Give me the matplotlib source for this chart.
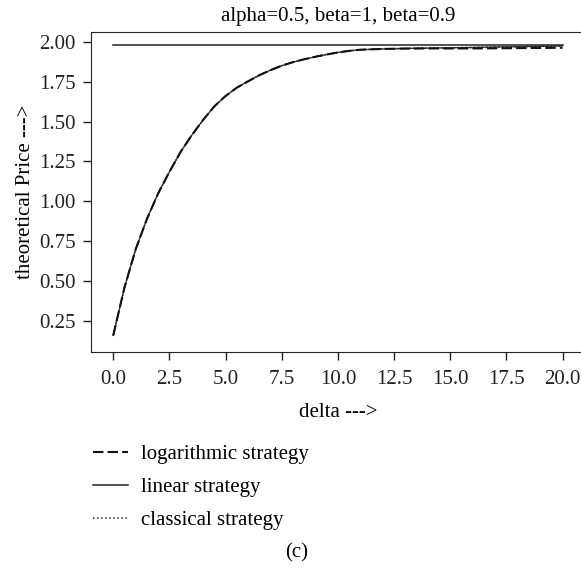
import matplotlib.pyplot as plt
import numpy as np

plt.rcParams['font.family'] = ['Liberation Serif', 'DejaVu Serif']
plt.rcParams['font.size'] = 15

delta = [0, 0.5, 1, 1.5, 2, 2.5, 3, 3.5, 4, 4.5, 5, 5.5, 6, 6.5, 7, 7.5,
         8, 8.5, 9, 9.5, 10, 10.5, 11, 12, 13, 14, 15, 16, 17, 18, 19, 20]
log_price = [0.16, 0.46, 0.70, 0.89, 1.05, 1.185, 1.31, 1.415, 1.51, 1.595, 1.66,
             1.712, 1.752, 1.79, 1.822, 1.85, 1.872, 1.89, 1.906, 1.92, 1.933,
             1.943, 1.95, 1.955, 1.957, 1.958, 1.958, 1.958, 1.959, 1.960,
             1.961, 1.962]
classical_price = [0.16, 0.46, 0.70, 0.89, 1.05, 1.185, 1.31, 1.415, 1.51, 1.595,
                   1.66, 1.712, 1.752, 1.79, 1.822, 1.85, 1.872, 1.89, 1.906,
                   1.92, 1.933, 1.943, 1.95, 1.955, 1.958, 1.960, 1.962,
                   1.964, 1.967, 1.969, 1.971, 1.974]
linear_price = [1.979] * len(delta)

fig = plt.figure(figsize=(5.81, 5.69), dpi=100)
ax = fig.add_axes([91/581, 1-352/569, 494/581, 320/569])

# thin underlay so the curve reads as a solid line under the dashes
ax.plot(delta, classical_price, color='#3a3a3a', linewidth=1.0)
l3, = ax.plot(delta, classical_price, color='#222222', linestyle=':', linewidth=1.1,
              label='classical strategy')
l1, = ax.plot(delta, log_price, color='#111111', linestyle='--', linewidth=1.5,
              dashes=(5, 2), label='logarithmic strategy')
l2, = ax.plot(delta, linear_price, color='#222222', linestyle='-', linewidth=1.1,
              label='linear strategy')

ax.set_xlim(-0.99, 21)
ax.set_ylim(0.056, 2.061)
ax.set_xticks(np.arange(0, 20.1, 2.5))
ax.set_yticks(np.arange(0.25, 2.01, 0.25))
ax.xaxis.set_major_formatter(plt.FormatStrFormatter('%.1f'))
ax.yaxis.set_major_formatter(plt.FormatStrFormatter('%.2f'))
ax.tick_params(direction='out', length=6, width=1, colors='#222222', labelsize=15)
ax.tick_params(axis='x', pad=7)
ax.tick_params(axis='y', pad=5)
for s in ax.spines.values():
    s.set_color('#222222')

ax.set_title('alpha=0.5, beta=1, beta=0.9', fontsize=15, pad=8)
ax.set_xlabel('delta --->', fontsize=15, labelpad=10)
ax.set_ylabel('theoretical Price --->', fontsize=15, labelpad=3)

fig.legend(handles=[l1, l2, l3], loc='upper left', bbox_to_anchor=(74/581, 1-426/569),
           frameon=False, fontsize=15, handlelength=1.7, handletextpad=0.6,
           labelspacing=0.64)
fig.text(297/581, 1-553/569, '(c)', ha='center', va='center', fontsize=15)

fig.savefig('out.png', dpi=100)
